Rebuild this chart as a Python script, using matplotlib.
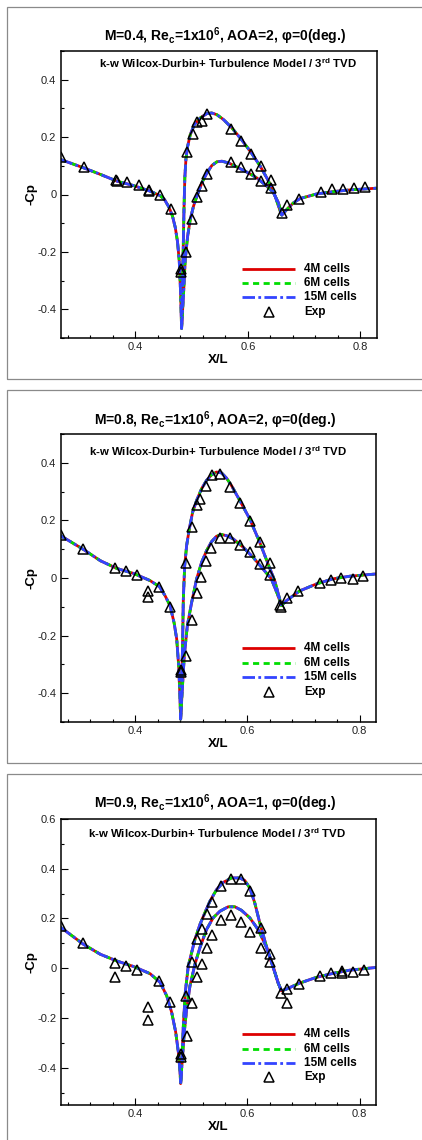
import numpy as np
import matplotlib
matplotlib.use('Agg')
import matplotlib.pyplot as plt
from matplotlib.ticker import MultipleLocator, FuncFormatter
from matplotlib.patches import Rectangle

plt.rcParams['font.family'] = ['Liberation Sans', 'DejaVu Sans']
plt.rcParams['mathtext.fontset'] = 'custom'
plt.rcParams['mathtext.rm'] = 'Liberation Sans'
plt.rcParams['mathtext.bf'] = 'Liberation Sans:bold'
plt.rcParams['axes.unicode_minus'] = False

# ---- data ----
titles = ['M=0.4, Re$_\\mathbf{c}$=1x10$^\\mathbf{6}$, AOA=2, \u03c6=0(deg.)',
          'M=0.8, Re$_\\mathbf{c}$=1x10$^\\mathbf{6}$, AOA=2, \u03c6=0(deg.)',
          'M=0.9, Re$_\\mathbf{c}$=1x10$^\\mathbf{6}$, AOA=1, \u03c6=0(deg.)']
model_label = 'k-w Wilcox-Durbin+ Turbulence Model / 3$^\\mathbf{rd}$ TVD'
series_labels = ['4M cells', '6M cells', '15M cells', 'Exp']

# panel 1 (M=0.4)
p1_up_x = [0.267, 0.308, 0.338, 0.368, 0.397, 0.427, 0.444, 0.452, 0.460, 0.466, 0.471,
           0.475, 0.478, 0.4804, 0.4822, 0.4835, 0.485, 0.4865, 0.488, 0.490, 0.493, 0.4977,
           0.5047, 0.5154, 0.5272, 0.536, 0.545, 0.5568, 0.5716, 0.5864, 0.6041, 0.6219,
           0.6367, 0.6485, 0.6586, 0.6604, 0.6693, 0.681, 0.6929, 0.7225, 0.752, 0.7817, 0.829]
p1_up_y = [0.122, 0.093, 0.070, 0.046, 0.031, 0.011, -0.004, -0.018, -0.045, -0.075, -0.115,
           -0.165, -0.23, -0.34, -0.467, -0.36, -0.2, -0.05, 0.06, 0.125, 0.168, 0.209,
           0.243, 0.267, 0.282, 0.284, 0.278, 0.261, 0.232, 0.197, 0.151, 0.099,
           0.047, -0.006, -0.064, -0.072, -0.052, -0.029, -0.014, 0.002, 0.010, 0.016, 0.022]
p1_lo_x = [0.4822, 0.4858, 0.4887, 0.493, 0.4976, 0.5035, 0.5094, 0.5183, 0.5272, 0.536,
           0.545, 0.5538, 0.5657, 0.5804, 0.5982, 0.6159, 0.6337, 0.6455, 0.6544, 0.6604]
p1_lo_y = [-0.467, -0.342, -0.226, -0.145, -0.087, -0.04, -0.006, 0.041, 0.075, 0.101,
           0.114, 0.116, 0.11, 0.096, 0.078, 0.058, 0.029, 0.006, -0.029, -0.072]
p1_exp_x = [0.268, 0.308, 0.366, 0.367, 0.385, 0.406, 0.424, 0.424, 0.444, 0.463, 0.4805,
            0.481, 0.4905, 0.4917, 0.5023, 0.5094, 0.5183, 0.5272, 0.5704, 0.5881, 0.6053,
            0.623, 0.6408, 0.5006, 0.5094, 0.5183, 0.5272, 0.5704, 0.5881, 0.6053, 0.623,
            0.6408, 0.6604, 0.6704, 0.6911, 0.7297, 0.7492, 0.7687, 0.7888, 0.8083]
p1_exp_y = [0.131, 0.096, 0.052, 0.046, 0.043, 0.032, 0.017, 0.012, 0.0, -0.052, -0.27,
            -0.26, -0.20, 0.147, 0.212, 0.252, 0.255, 0.281, 0.229, 0.188, 0.142,
            0.099, 0.052, -0.085, -0.008, 0.029, 0.073, 0.112, 0.096, 0.072, 0.046,
            0.023, -0.066, -0.038, -0.015, 0.008, 0.02, 0.02, 0.023, 0.027]

# panel 2 (M=0.8)
p2_up_x = [0.267, 0.308, 0.338, 0.3675, 0.397, 0.4266, 0.4432, 0.4532, 0.4621, 0.4692, 0.474,
           0.4775, 0.4799, 0.481, 0.4828, 0.4846, 0.4858, 0.4882, 0.4917, 0.4964, 0.5023,
           0.5094, 0.5183, 0.5272, 0.536, 0.5449, 0.5538, 0.5627, 0.5716, 0.5864, 0.6041,
           0.6219, 0.6367, 0.6485, 0.6574, 0.6604, 0.6693, 0.6929, 0.7225, 0.752, 0.7817, 0.829]
p2_up_y = [0.147, 0.099, 0.06, 0.033, 0.016, -0.009, -0.03, -0.061, -0.096, -0.154, -0.212,
           -0.305, -0.421, -0.49, -0.386, -0.212, -0.073, 0.043, 0.113, 0.17, 0.228,
           0.269, 0.31, 0.339, 0.358, 0.368, 0.365, 0.347, 0.321, 0.269, 0.205,
           0.124, 0.049, -0.009, -0.073, -0.096, -0.079, -0.045, -0.021, -0.003, 0.006, 0.014]
p2_lo_x = [0.481, 0.484, 0.4875, 0.4929, 0.5006, 0.5094, 0.5183, 0.5272, 0.536, 0.5449,
           0.5538, 0.5627, 0.5745, 0.5923, 0.61, 0.6278, 0.6426, 0.6544, 0.6604]
p2_lo_y = [-0.49, -0.386, -0.27, -0.166, -0.085, -0.004, 0.054, 0.095, 0.126, 0.145,
           0.151, 0.147, 0.136, 0.107, 0.072, 0.031, -0.003, -0.061, -0.096]
p2_exp_x = [0.2681, 0.3072, 0.3645, 0.384, 0.4041, 0.4236, 0.4236, 0.4432, 0.4621, 0.481,
            0.481, 0.4905, 0.4905, 0.5006, 0.5094, 0.5154, 0.5254, 0.5361, 0.5508, 0.5686,
            0.5864, 0.6041, 0.6219, 0.6396, 0.5006, 0.5094, 0.5166, 0.526, 0.5349, 0.5508,
            0.5686, 0.5864, 0.6041, 0.6219, 0.6396, 0.6586, 0.659, 0.6704, 0.69, 0.7297,
            0.7492, 0.767, 0.7876, 0.8065]
p2_exp_y = [0.150, 0.101, 0.035, 0.023, 0.011, -0.046, -0.067, -0.032, -0.102, -0.319,
            -0.328, -0.272, 0.051, 0.176, 0.252, 0.275, 0.321, 0.356, 0.362, 0.315,
            0.26, 0.197, 0.124, 0.052, -0.145, -0.052, 0.002, 0.06, 0.103, 0.138,
            0.138, 0.115, 0.089, 0.049, 0.01, -0.093, -0.1, -0.07, -0.045, -0.016,
            -0.007, -0.001, -0.003, 0.006]

# panel 3 (M=0.9)
p3_up_x = [0.267, 0.308, 0.338, 0.3675, 0.397, 0.4266, 0.4444, 0.4562, 0.465, 0.4722, 0.4769,
           0.4799, 0.481, 0.4834, 0.4858, 0.4893, 0.4946, 0.5006, 0.5065, 0.5154, 0.5242,
           0.5331, 0.545, 0.5568, 0.5716, 0.5864, 0.5952, 0.6041, 0.613, 0.6219, 0.6337,
           0.6455, 0.6544, 0.6604, 0.6693, 0.6929, 0.7225, 0.752, 0.7817, 0.829]
p3_up_y = [0.165, 0.096, 0.056, 0.029, 0.007, -0.022, -0.057, -0.111, -0.177, -0.257, -0.337,
           -0.417, -0.464, -0.364, -0.231, -0.097, 0.009, 0.063, 0.116, 0.176, 0.223,
           0.269, 0.316, 0.345, 0.363, 0.363, 0.353, 0.323, 0.263, 0.183, 0.089,
           0.009, -0.057, -0.091, -0.084, -0.06, -0.037, -0.021, -0.008, 0.003]
p3_lo_x = [0.481, 0.484, 0.4875, 0.4917, 0.4976, 0.5065, 0.5154, 0.5272, 0.539, 0.5509,
           0.5657, 0.5775, 0.5893, 0.6041, 0.6189, 0.6337, 0.6455, 0.6544, 0.6604]
p3_lo_y = [-0.464, -0.364, -0.257, -0.164, -0.071, 0.016, 0.083, 0.156, 0.203, 0.229,
           0.247, 0.247, 0.233, 0.203, 0.156, 0.085, 0.005, -0.057, -0.091]
p3_exp_x = [0.2681, 0.3072, 0.3645, 0.3645, 0.384, 0.403, 0.4236, 0.4236, 0.4432, 0.4621,
            0.4811, 0.4811, 0.4918, 0.4905, 0.5006, 0.5095, 0.5184, 0.5273, 0.536, 0.5526,
            0.5699, 0.5877, 0.6054, 0.6237, 0.6409, 0.5006, 0.5095, 0.5184, 0.5273, 0.536,
            0.5526, 0.5699, 0.5877, 0.6054, 0.6237, 0.6409, 0.6598, 0.6704, 0.6704, 0.6911,
            0.7297, 0.7492, 0.7687, 0.7687, 0.7888, 0.8083]
p3_exp_y = [0.169, 0.103, 0.02, -0.037, 0.009, -0.008, -0.157, -0.207, -0.053, -0.135,
            -0.344, -0.357, -0.271, -0.111, 0.023, 0.116, 0.156, 0.22, 0.265, 0.332,
            0.36, 0.359, 0.312, 0.161, 0.059, -0.141, -0.037, 0.016, 0.08, 0.133,
            0.192, 0.212, 0.187, 0.145, 0.08, 0.027, -0.101, -0.084, -0.141, -0.064,
            -0.033, -0.021, -0.013, -0.02, -0.017, -0.007]

panels = [
    dict(up=(p1_up_x, p1_up_y), lo=(p1_lo_x, p1_lo_y), exp=(p1_exp_x, p1_exp_y),
         ylim=(-0.5, 0.5), box=(60.5, 51, 376.7, 338), frame=(7, 379),
         title_xy=(225, 36), sub_xy=(228, 63), leg_y=[269, 283, 297, 312]),
    dict(up=(p2_up_x, p2_up_y), lo=(p2_lo_x, p2_lo_y), exp=(p2_exp_x, p2_exp_y),
         ylim=(-0.5, 0.5), box=(60.5, 434, 376, 722), frame=(390, 763),
         title_xy=(215, 420), sub_xy=(218, 451), leg_y=[648, 663, 677, 692]),
    dict(up=(p3_up_x, p3_up_y), lo=(p3_lo_x, p3_lo_y), exp=(p3_exp_x, p3_exp_y),
         ylim=(-0.55, 0.6), box=(60.5, 819, 376, 1105), frame=(774, 1200),
         title_xy=(215, 803), sub_xy=(217, 833), leg_y=[1034, 1049, 1063, 1077]),
]

W, H = 422., 1140.
fig = plt.figure(figsize=(W/100, H/100), dpi=100)

def fx(px): return px/W
def fy(py): return 1 - py/H

styles = [dict(color='#dd0000', lw=2.0, ls='-'),
          dict(color='#00dd00', lw=2.0, ls=(0, (2.2, 1.6))),
          dict(color='#3344ff', lw=2.0, ls=(0, (4.5, 1.2, 1.0, 1.2)))]

fmt = FuncFormatter(lambda v, p: '%g' % round(v, 3))

for i, P in enumerate(panels):
    # gray frame round each panel (cropped on the right)
    top, bot = P['frame']
    fig.patches.append(Rectangle((fx(7), fy(bot)), 1.2, (bot-top)/H, fill=False,
                                 ec='#8a8a8a', lw=0.9, transform=fig.transFigure))

    x0, y0, x1, y1 = P['box']
    ax = fig.add_axes([fx(x0), fy(y1), (x1-x0)/W, (y1-y0)/H])

    for st in styles:
        ax.plot(P['up'][0], P['up'][1], solid_capstyle='butt', dash_capstyle='butt', **st)
        ax.plot(P['lo'][0], P['lo'][1], solid_capstyle='butt', dash_capstyle='butt', **st)
    ax.plot(P['exp'][0], P['exp'][1], '^', ms=7.5, mfc='none', mec='black', mew=1.1)

    ax.set_xlim(0.267, 0.829)
    ax.set_ylim(*P['ylim'])
    ax.xaxis.set_major_locator(MultipleLocator(0.2))
    ax.xaxis.set_minor_locator(MultipleLocator(0.04))
    ax.yaxis.set_major_locator(MultipleLocator(0.2))
    ax.yaxis.set_minor_locator(MultipleLocator(0.1))
    ax.xaxis.set_major_formatter(fmt)
    ax.yaxis.set_major_formatter(fmt)
    ax.tick_params(which='both', direction='in', top=False, right=False,
                   labelsize=8, pad=3, width=0.8, labelcolor='#222222')
    ax.tick_params(which='major', length=5)
    ax.tick_params(which='minor', length=2.5)
    for s in ax.spines.values():
        s.set_linewidth(1.1)

    # labels
    ax.set_xlabel('X/L', fontsize=9.5, fontweight='bold', labelpad=1)
    ax.set_ylabel('-Cp', fontsize=9.5, fontweight='bold', labelpad=0)
    fig.text(fx(P['title_xy'][0]), fy(P['title_xy'][1]), titles[i], fontsize=10,
             fontweight='bold', ha='center', va='center')
    fig.text(fx(P['sub_xy'][0]), fy(P['sub_xy'][1]), model_label, fontsize=8.2,
             fontweight='bold', ha='center', va='center')

    # hand-made legend, Tecplot style
    ly = [(y1 - v)/(y1 - y0) for v in P['leg_y']]
    lx0, lx1, tx = (242-x0)/(x1-x0), (295-x0)/(x1-x0), (304-x0)/(x1-x0)
    for k, st in enumerate(styles):
        ax.plot([lx0, lx1], [ly[k], ly[k]], transform=ax.transAxes,
                solid_capstyle='butt', dash_capstyle='butt', **st)
    ax.plot([(269-x0)/(x1-x0)], [ly[3]], '^', transform=ax.transAxes,
            ms=7.5, mfc='none', mec='black', mew=1.1)
    for k, lab in enumerate(series_labels):
        ax.text(tx, ly[k], lab, transform=ax.transAxes, fontsize=8.5,
                fontweight='bold', va='center', ha='left')

fig.savefig('out.png', dpi=100)
